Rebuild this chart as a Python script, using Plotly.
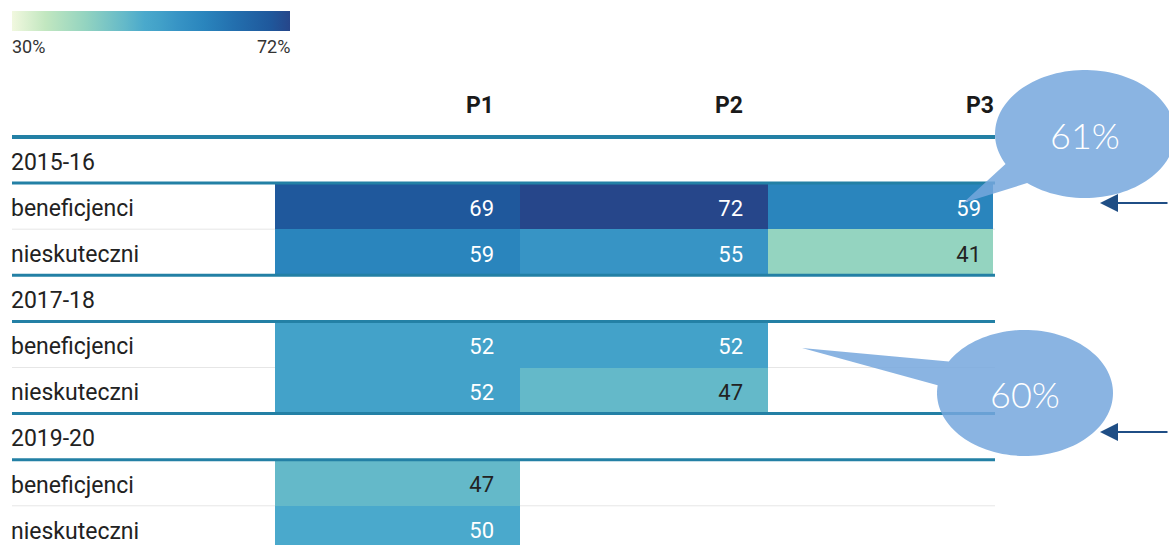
import numpy as np
import plotly.graph_objects as go

# ---------------- data ----------------
periods = ["2015-16", "2017-18", "2019-20"]
groups = ["beneficjenci", "nieskuteczni"]
columns = ["P1", "P2", "P3"]
beneficjenci = [[69, 72, 59], [52, 52, None], [47, None, None]]
nieskuteczni = [[59, 55, 41], [52, 47, None], [50, None, None]]
scale_min, scale_max = 30, 72
scale_labels = ["30%", "72%"]
callouts = ["61%", "60%"]

# ---------------- layout constants ----------------
W, H = 1169, 545
ROW_TOP, ROW_H = 137, 46.1
TEXT_DY = 4 / ROW_H  # text sits slightly below the row centre
col_edges = [275, 520, 768, 993]
text_right = [494, 743, 981]
LINE_X0, LINE_X1 = 12, 995
TEAL = "#2380a5"
FONT = "Roboto"

def y_of(p):  # pixel -> row coordinate
    return (p - ROW_TOP) / ROW_H - 0.5

def px(x):
    return x / W

def py(y):
    return 1 - y / H

# build table rows
row_labels, row_z, row_is_header = [], [], []
for i, per in enumerate(periods):
    row_labels.append(per); row_z.append([None] * 3); row_is_header.append(True)
    for g, vals in zip(groups, [beneficjenci[i], nieskuteczni[i]]):
        row_labels.append(g); row_z.append(vals); row_is_header.append(False)
rows = list(range(len(row_labels)))

colorscale = [
    [0.00, "#f1f8df"],
    [0.12, "#c2e7c0"],
    [0.262, "#94d4c0"],
    [0.405, "#64b9c9"],
    [0.476, "#4aa9cc"],
    [0.524, "#43a2c9"],
    [0.595, "#3794c5"],
    [0.690, "#2a85bd"],
    [0.80, "#236fae"],
    [0.929, "#1f589c"],
    [1.00, "#26468a"],
]

fig = go.Figure()
fig.add_trace(go.Heatmap(
    z=row_z, x=col_edges, y=rows, zmin=scale_min, zmax=scale_max,
    colorscale=colorscale, hoverinfo="skip", xgap=0, ygap=0,
    colorbar=dict(orientation="h", x=px(12), xanchor="left", y=py(11), yanchor="top",
                  lenmode="pixels", len=278, thickness=20, xpad=0, ypad=0,
                  outlinewidth=0, showticklabels=False, ticks=""),
))

# cell values
tx, ty, tt, tc = [], [], [], []
for r, vals in zip(rows, row_z):
    for c, v in enumerate(vals):
        if v is None:
            continue
        tx.append(text_right[c]); ty.append(r + TEXT_DY); tt.append(str(v))
        tc.append("white" if v >= 49 else "#222222")
fig.add_trace(go.Scatter(x=tx, y=ty, text=tt, mode="text", textposition="middle left",
                         textfont=dict(family=FONT, size=22, color=tc), hoverinfo="skip",
                         showlegend=False))

# row labels
fig.add_trace(go.Scatter(x=[11] * len(rows), y=[r + TEXT_DY for r in rows], text=row_labels,
                         mode="text", textposition="middle right",
                         textfont=dict(family=FONT, size=23, color="#222222"),
                         hoverinfo="skip", showlegend=False))

# column headers
fig.add_trace(go.Scatter(x=[text_right[0], text_right[1], 994], y=[y_of(107)] * 3, text=columns,
                         mode="text", textposition="middle left",
                         textfont=dict(family=FONT, size=23, color="#1a1a1a", weight="bold"),
                         hoverinfo="skip", showlegend=False))

shapes = []
# thin separators (below cells)
for r, hdr in zip(rows, row_is_header):
    if not hdr and row_labels[r] == groups[1]:
        shapes.append(dict(type="line", xref="x", yref="y", x0=LINE_X0, x1=LINE_X1,
                           y0=r - 0.5, y1=r - 0.5, line=dict(color="#e6e6e6", width=1),
                           layer="below"))
# thick lines
shapes.append(dict(type="line", xref="x", yref="y", x0=LINE_X0, x1=LINE_X1, y0=-0.5, y1=-0.5,
                   line=dict(color=TEAL, width=4), layer="above"))
for r, hdr in zip(rows, row_is_header):
    if hdr:
        for yy in ([r - 0.5] if r > 0 else []) + [r + 0.5]:
            shapes.append(dict(type="line", xref="x", yref="y", x0=LINE_X0, x1=LINE_X1,
                               y0=yy, y1=yy, line=dict(color=TEAL, width=3), layer="above"))

# speech bubbles
def bubble(cx, cy, rx, ry, a_start, a_end, tip):
    t = np.radians(np.linspace(a_start, a_end, 120))
    xs = cx + rx * np.cos(t)
    ys = cy + ry * np.sin(t)
    pts = [(px(x), py(y)) for x, y in zip(xs, ys)] + [(px(tip[0]), py(tip[1]))]
    path = "M " + " L ".join(f"{a:.5f},{b:.5f}" for a, b in pts) + " Z"
    return dict(type="path", xref="paper", yref="paper", path=path,
                fillcolor="rgba(118,167,221,0.85)", line=dict(width=0), layer="above")

bubbles = [
    dict(cx=1085, cy=134, rx=90, ry=64, a0=152, a1=490, tip=(963, 203)),
    dict(cx=1025, cy=393, rx=88, ry=63, a0=210, a1=547, tip=(802, 348)),
]
annotations = []
for b, label in zip(bubbles, callouts):
    shapes.append(bubble(b["cx"], b["cy"], b["rx"], b["ry"], b["a0"], b["a1"], b["tip"]))
    annotations.append(dict(xref="paper", yref="paper", x=px(b["cx"]), y=py(b["cy"] + 1),
                            xanchor="center", yanchor="middle",
                            text=label, showarrow=False,
                            font=dict(family="Lato", size=36, color="white", weight=300)))

# arrows on the right
for yy in [203, 432]:
    annotations.append(dict(xref="paper", yref="paper", x=px(1100), y=py(yy), ax=75, ay=0,
                            text="", showarrow=True, arrowhead=2, arrowsize=2,
                            arrowwidth=1.8, arrowcolor="#1f4e85"))

# colour scale labels
annotations.append(dict(xref="paper", yref="paper", x=px(10), y=py(46), text=scale_labels[0],
                        showarrow=False, xanchor="left", yanchor="middle",
                        font=dict(family=FONT, size=18, color="#333333")))
annotations.append(dict(xref="paper", yref="paper", x=px(292), y=py(46), text=scale_labels[1],
                        showarrow=False, xanchor="right", yanchor="middle",
                        font=dict(family=FONT, size=18, color="#333333")))

fig.update_layout(
    width=W, height=H, margin=dict(l=0, r=0, t=0, b=0),
    paper_bgcolor="white", plot_bgcolor="white", showlegend=False,
    xaxis=dict(range=[0, W], visible=False, fixedrange=True),
    yaxis=dict(range=[y_of(H), y_of(0)], visible=False, fixedrange=True),
    shapes=shapes, annotations=annotations,
)
fig.write_html("out.html", config={"displayModeBar": False},
               post_script="document.body.style.margin='0px';document.body.style.overflow='hidden';")
